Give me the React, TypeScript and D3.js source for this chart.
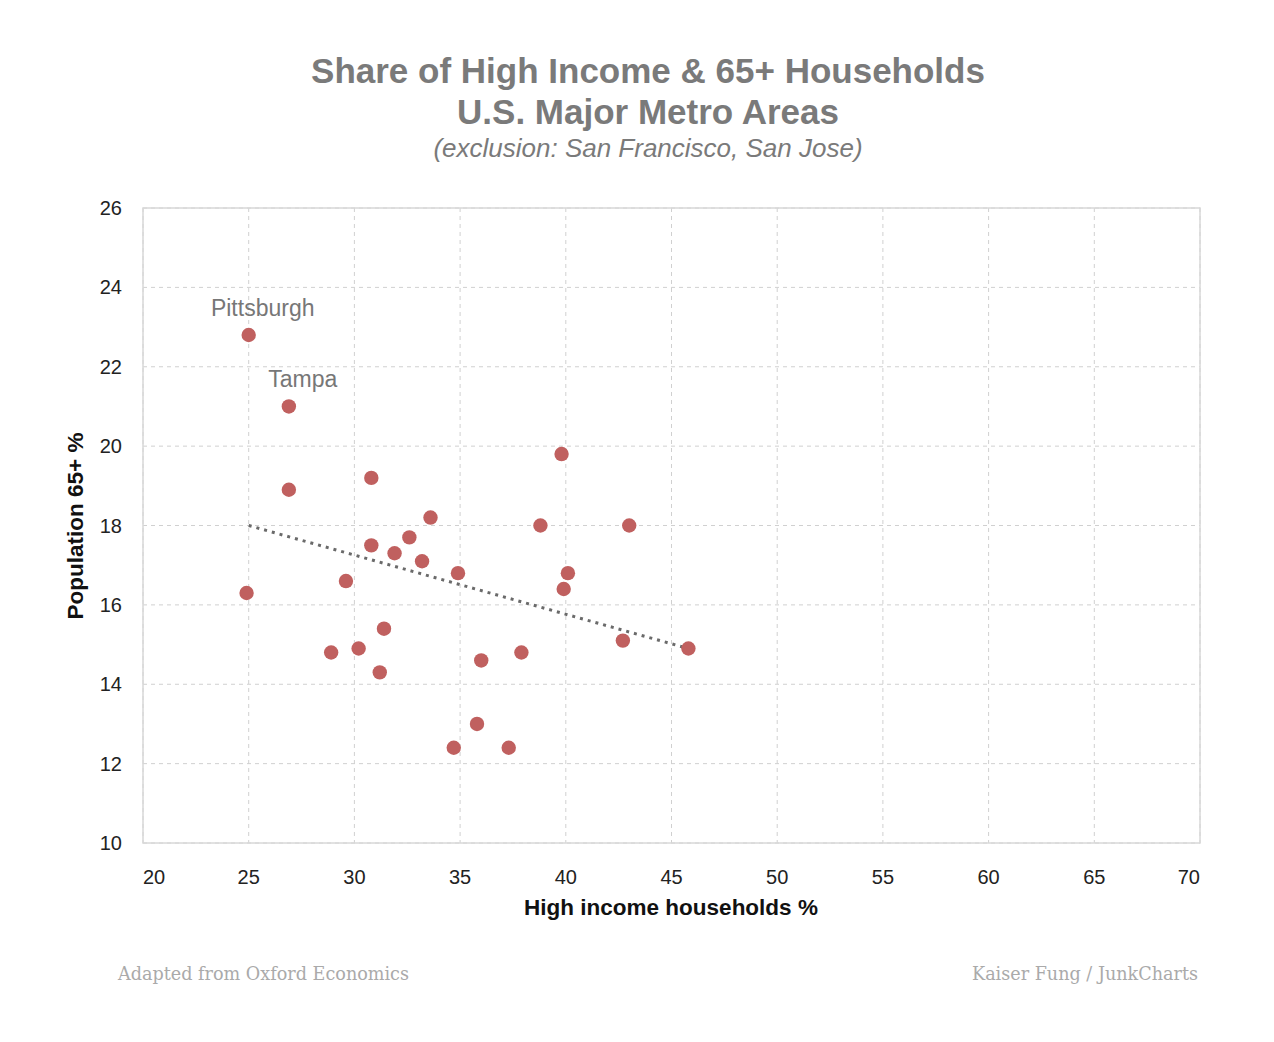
import React from "react";
import * as d3 from "d3";

const highIncome = [25.0, 26.9, 26.9, 24.9, 30.8, 29.6, 30.8, 31.9, 32.6, 33.2, 33.6, 34.9, 28.9, 30.2, 31.4, 31.2, 36.0, 37.9, 35.8, 34.7, 37.3, 39.8, 38.8, 43.0, 40.1, 39.9, 42.7, 45.8];
const pop65 = [22.8, 21.0, 18.9, 16.3, 19.2, 16.6, 17.5, 17.3, 17.7, 17.1, 18.2, 16.8, 14.8, 14.9, 15.4, 14.3, 14.6, 14.8, 13.0, 12.4, 12.4, 19.8, 18.0, 18.0, 16.8, 16.4, 15.1, 14.9];
const labelNames = ["Pittsburgh", "Tampa"];
const labelX = [25.0, 26.9];
const labelY = [22.8, 21.0];
const trendX = [25.0, 45.8];
const trendY = [18.0, 14.9];
const xTicks = [20, 25, 30, 35, 40, 45, 50, 55, 60, 65, 70];
const yTicks = [10, 12, 14, 16, 18, 20, 22, 24, 26];

const W = 1274;
const H = 1042;
const left = 143, right = 1200, top = 208, bottom = 843;

export default function App() {
  const x = d3.scaleLinear().domain([20, 70]).range([left, right]);
  const y = d3.scaleLinear().domain([10, 26]).range([bottom, top]);
  const line = d3.line<number>().x((d) => x(trendX[d])).y((d) => y(trendY[d]));
  const sans = "'Liberation Sans', Arial, Helvetica, sans-serif";
  const serif = "'DejaVu Serif', 'Liberation Serif', serif";
  return (
    <svg width={W} height={H} style={{ position: "absolute", left: 0, top: 0, background: "#fff" }} fontFamily={sans}>
      <rect x={0} y={0} width={W} height={H} fill="#fff" />
      <text x={648} y={83} textAnchor="middle" fontSize={35} fontWeight="bold" fill="#7a7a7a">
        Share of High Income &amp; 65+ Households
      </text>
      <text x={648} y={124} textAnchor="middle" fontSize={35} fontWeight="bold" fill="#7a7a7a">
        U.S. Major Metro Areas
      </text>
      <text x={648} y={157} textAnchor="middle" fontSize={26} fontStyle="italic" fill="#7a7a7a">
        (exclusion: San Francisco, San Jose)
      </text>

      {xTicks.map((t) => (
        <line key={"gx" + t} x1={x(t)} x2={x(t)} y1={top} y2={bottom} stroke="#d0d0d0" strokeWidth={1} strokeDasharray="4,4" />
      ))}
      {yTicks.map((t) => (
        <line key={"gy" + t} x1={left} x2={right} y1={y(t)} y2={y(t)} stroke="#d0d0d0" strokeWidth={1} strokeDasharray="4,4" />
      ))}
      <rect x={left} y={top} width={right - left} height={bottom - top} fill="none" stroke="#d8d8d8" strokeWidth={1.5} />

      {xTicks.map((t, i) => (
        <text
          key={"tx" + t}
          x={x(t)}
          y={884}
          textAnchor={i === 0 ? "start" : i === xTicks.length - 1 ? "end" : "middle"}
          fontSize={20}
          fill="#222"
        >
          {t}
        </text>
      ))}
      {yTicks.map((t) => (
        <text key={"ty" + t} x={122} y={y(t) + 7} textAnchor="end" fontSize={20} fill="#222">
          {t}
        </text>
      ))}

      <text x={671} y={915} textAnchor="middle" fontSize={22.5} fontWeight="bold" fill="#111">
        High income households %
      </text>
      <text transform={`translate(83,${526}) rotate(-90)`} textAnchor="middle" fontSize={22.5} fontWeight="bold" fill="#111">
        Population 65+ %
      </text>

      <path d={line([0, 1]) || ""} fill="none" stroke="#6a6a6a" strokeWidth={3} strokeDasharray="3,5" />

      {highIncome.map((v, i) => (
        <circle key={"p" + i} cx={x(v)} cy={y(pop65[i])} r={7.2} fill="#c0605f" />
      ))}

      {labelNames.map((n, i) => (
        <text key={n} x={x(labelX[i]) + 14} y={y(labelY[i]) - 19} textAnchor="middle" fontSize={23} fill="#777">
          {n}
        </text>
      ))}

      <text x={118} y={980} fontSize={18} fill="#aaa" fontFamily={serif} textLength={291} lengthAdjust="spacingAndGlyphs">
        Adapted from Oxford Economics
      </text>
      <text x={1198} y={980} textAnchor="end" fontSize={18} fill="#aaa" fontFamily={serif} textLength={226} lengthAdjust="spacingAndGlyphs">
        Kaiser Fung / JunkCharts
      </text>
    </svg>
  );
}
